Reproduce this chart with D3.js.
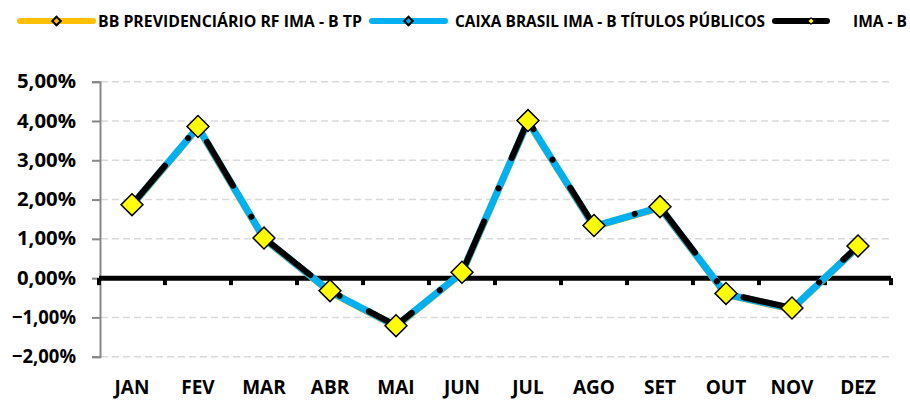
<!DOCTYPE html>
<html>
<head>
  <meta charset="utf-8">
  <script src="https://d3js.org/d3.v7.min.js"></script>
  <style>
    body { margin: 0; background: #fff; }
    text { font-family: "Open Sans", Lato, sans-serif; font-weight: bold; fill: #000; }
  </style>
</head>
<body>
  <div id="chart"></div>

  <script>
    // dados (rentabilidade mensal, %)
    var meses = ["JAN", "FEV", "MAR", "ABR", "MAI", "JUN", "JUL", "AGO", "SET", "OUT", "NOV", "DEZ"];
    var bbPrev = [1.85, 3.83, 1.00, -0.35, -1.23, 0.13, 3.98, 1.31, 1.79, -0.42, -0.79, 0.79];
    var caixa  = [1.86, 3.84, 1.01, -0.34, -1.22, 0.14, 3.99, 1.32, 1.80, -0.41, -0.78, 0.80];
    var imab   = [1.87, 3.86, 1.02, -0.32, -1.21, 0.15, 4.01, 1.34, 1.82, -0.39, -0.76, 0.82];
    var yTicks = [-2, -1, 0, 1, 2, 3, 4, 5];

    var series = [
      { nome: "BB PREVIDENCIÁRIO RF IMA - B TP", valores: bbPrev, cor: "#ffc000", largura: 7 },
      { nome: "CAIXA BRASIL IMA - B TÍTULOS PÚBLICOS", valores: caixa, cor: "#00b0f0", largura: 7 },
      { nome: "IMA - B", valores: imab, cor: "#000000", largura: 6 }
    ];

    var width = 910, height = 401;

    var svg = d3.select("#chart").append("svg")
      .attr("width", width)
      .attr("height", height);

    var x = d3.scaleBand().domain(meses).range([99, 891]);
    var y = d3.scaleLinear().domain([-2, 5]).range([356.7, 81.7]);
    var cx = m => x(m) + x.bandwidth() / 2;

    var fmt = v => d3.format(".2f")(v).replace(".", ",") + "%";

    // linhas de grade
    svg.append("g")
      .selectAll("line")
      .data(yTicks)
      .enter().append("line")
      .attr("x1", 101).attr("x2", 891)
      .attr("y1", d => y(d)).attr("y2", d => y(d))
      .attr("stroke", "#d9d9d9")
      .attr("stroke-width", 1.5)
      .attr("stroke-dasharray", "7,4");

    // eixo y
    var yAxis = svg.append("g")
      .attr("transform", "translate(100,0)")
      .call(d3.axisLeft(y).tickValues(yTicks).tickFormat(fmt).tickSize(8).tickPadding(16));
    yAxis.select(".domain").attr("stroke", "#878787").attr("stroke-width", 2);
    yAxis.selectAll(".tick line").attr("stroke", "#878787").attr("stroke-width", 2);
    yAxis.selectAll(".tick text")
      .style("font-size", "19px")
      .attr("textLength", d => d < 0 ? 64 : 59)
      .attr("lengthAdjust", "spacingAndGlyphs");

    // eixo x (na linha do zero)
    var xTicks = meses.map(m => x(m)).concat([x.range()[1]]);
    svg.append("g")
      .selectAll("rect")
      .data(xTicks)
      .enter().append("rect")
      .attr("x", d => d - 2)
      .attr("y", y(0))
      .attr("width", 4)
      .attr("height", 7)
      .attr("fill", "#000");
    svg.append("line")
      .attr("x1", 99).attr("x2", 891)
      .attr("y1", y(0)).attr("y2", y(0))
      .attr("stroke", "#000")
      .attr("stroke-width", 5);

    svg.append("g")
      .selectAll("text")
      .data(meses)
      .enter().append("text")
      .attr("x", d => cx(d))
      .attr("y", 394)
      .attr("text-anchor", "middle")
      .style("font-size", "19px")
      .text(d => d);

    // linhas das séries
    var linha = d3.line()
      .x((d, i) => cx(meses[i]))
      .y(d => y(d));

    series.forEach(function(s, k) {
      var p = svg.append("path")
        .datum(s.valores)
        .attr("d", linha)
        .attr("fill", "none")
        .attr("stroke", s.cor)
        .attr("stroke-width", s.largura)
        .attr("stroke-linejoin", "round");
      if (k === 2) {
        p.attr("stroke-dasharray", "51,36,0.1,33").attr("stroke-linecap", "round");
      }
    });

    // marcadores
    svg.append("g")
      .selectAll("path")
      .data(imab)
      .enter().append("path")
      .attr("d", d3.symbol().type(d3.symbolSquare).size(240))
      .attr("transform", (d, i) => "translate(" + cx(meses[i]) + "," + y(d) + ") rotate(45)")
      .attr("fill", "#ffff00")
      .attr("stroke", "#000")
      .attr("stroke-width", 1.5);

    // legenda
    var leg = [
      { x0: 20, x1: 93, tx: 98, w: 264 },
      { x0: 372, x1: 445, tx: 455, w: 310 },
      { x0: 775, x1: 827, tx: 853, w: 54 }
    ];
    series.forEach(function(s, k) {
      var l = leg[k];
      var g = svg.append("g");
      g.append("line")
        .attr("x1", l.x0).attr("x2", l.x1)
        .attr("y1", 21).attr("y2", 21)
        .attr("stroke", s.cor)
        .attr("stroke-width", 6)
        .attr("stroke-linecap", "round");
      var mx = k === 2 ? 811 : (l.x0 + l.x1) / 2;
      g.append("path")
        .attr("d", d3.symbol().type(d3.symbolSquare).size(k === 2 ? 22 : 36))
        .attr("transform", "translate(" + mx + ",21) rotate(45)")
        .attr("fill", k === 2 ? "#ffff00" : s.cor)
        .attr("stroke", "#000")
        .attr("stroke-width", k === 2 ? 1 : 2);
      g.append("text")
        .attr("x", l.tx)
        .attr("y", 26.5)
        .style("font-size", "15.5px")
        .attr("textLength", l.w)
        .attr("lengthAdjust", "spacingAndGlyphs")
        .text(s.nome);
    });
  </script>
</body>
</html>
